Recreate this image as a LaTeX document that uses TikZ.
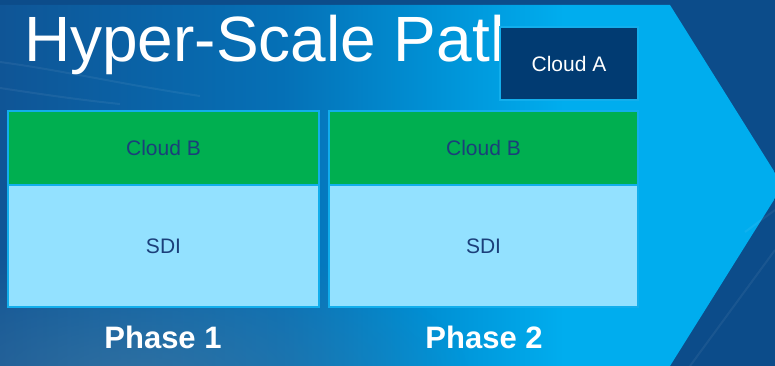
\documentclass[tikz,border=0pt]{standalone}
\usepackage{fontspec}
\setmainfont{Liberation Sans}
\usetikzlibrary{fadings}
\tikzfading[name=softglow, inner color=transparent!0, outer color=transparent!100]
\definecolor{bgnavy}{HTML}{0C4C8A}
\definecolor{acA}{HTML}{0F5596}
\definecolor{acB}{HTML}{0570B6}
\definecolor{acC}{HTML}{0092D6}
\definecolor{acD}{HTML}{00ADEE}
\definecolor{hazeblue}{HTML}{4F7C9E}
\definecolor{edgeblue}{HTML}{12AEEC}
\definecolor{cloudgreen}{HTML}{00AF50}
\definecolor{sdiblue}{HTML}{93E1FF}
\definecolor{navytext}{HTML}{1B3F7A}
\definecolor{cloudnavy}{HTML}{013B72}
\pgfdeclarehorizontalshading{arrowshade}{100bp}{color(0bp)=(acA); color(25bp)=(acA); color(43bp)=(acB); color(53bp)=(acC); color(61bp)=(acD); color(75bp)=(acD); color(100bp)=(acD)}
\tikzset{
  layer/.style={draw=edgeblue, line width=1.5pt, inner sep=0pt, font=\fontsize{21}{25}\selectfont, text=navytext},
  cloudb/.style={layer, fill=cloudgreen, minimum height=74pt},
  sdibox/.style={layer, fill=sdiblue, minimum height=122pt},
  phase/.style={text=white, font=\fontsize{31}{36}\selectfont\bfseries, inner sep=0pt},
  streak/.style={white, opacity=0.06, line width=2pt}
}
\begin{document}
\begin{tikzpicture}[x=1pt, y=-1pt]
\useasboundingbox (0,0) rectangle (775,366);
\clip (0,0) rectangle (775,366);
% background
\fill[bgnavy] (0,0) rectangle (775,366);
% big arrow
\shade[shading=arrowshade] (0,5) -- (670,5) -- (783,185.5) -- (670,366) -- (0,366) -- cycle;
% soft haze in the lower left
\fill[hazeblue, opacity=0.55, path fading=softglow] (140,380) ellipse [x radius=330pt, y radius=140pt];
% faint streaks
\draw[streak] (0,62) .. controls (60,70) and (120,84) .. (200,96);
\draw[streak] (0,88) .. controls (40,94) and (80,100) .. (120,104);
\draw[streak] (690,366) -- (775,250);
\draw[streak] (745,232) -- (775,210);
% title
\node[anchor=base west, inner sep=0pt, text=white, font=\fontsize{64}{72}\selectfont] (title) at (24,62) {Hyper-Scale Path};
% phase 1
\node[cloudb, minimum width=311pt] (b1) at (163.5,148) {Cloud B};
\node[sdibox, minimum width=311pt] (s1) at (163.5,246) {SDI};
% phase 2
\node[cloudb, minimum width=309pt] (b2) at (483.5,148) {Cloud B};
\node[sdibox, minimum width=309pt] (s2) at (483.5,246) {SDI};
% cloud A on top
\node[layer, fill=cloudnavy, text=white, minimum width=138pt, minimum height=73pt] (a) at (569,63.5) {Cloud A};
% labels
\node[phase] (p1) at (163,337) {Phase 1};
\node[phase] (p2) at (484,337) {Phase 2};
\end{tikzpicture}
\end{document}
